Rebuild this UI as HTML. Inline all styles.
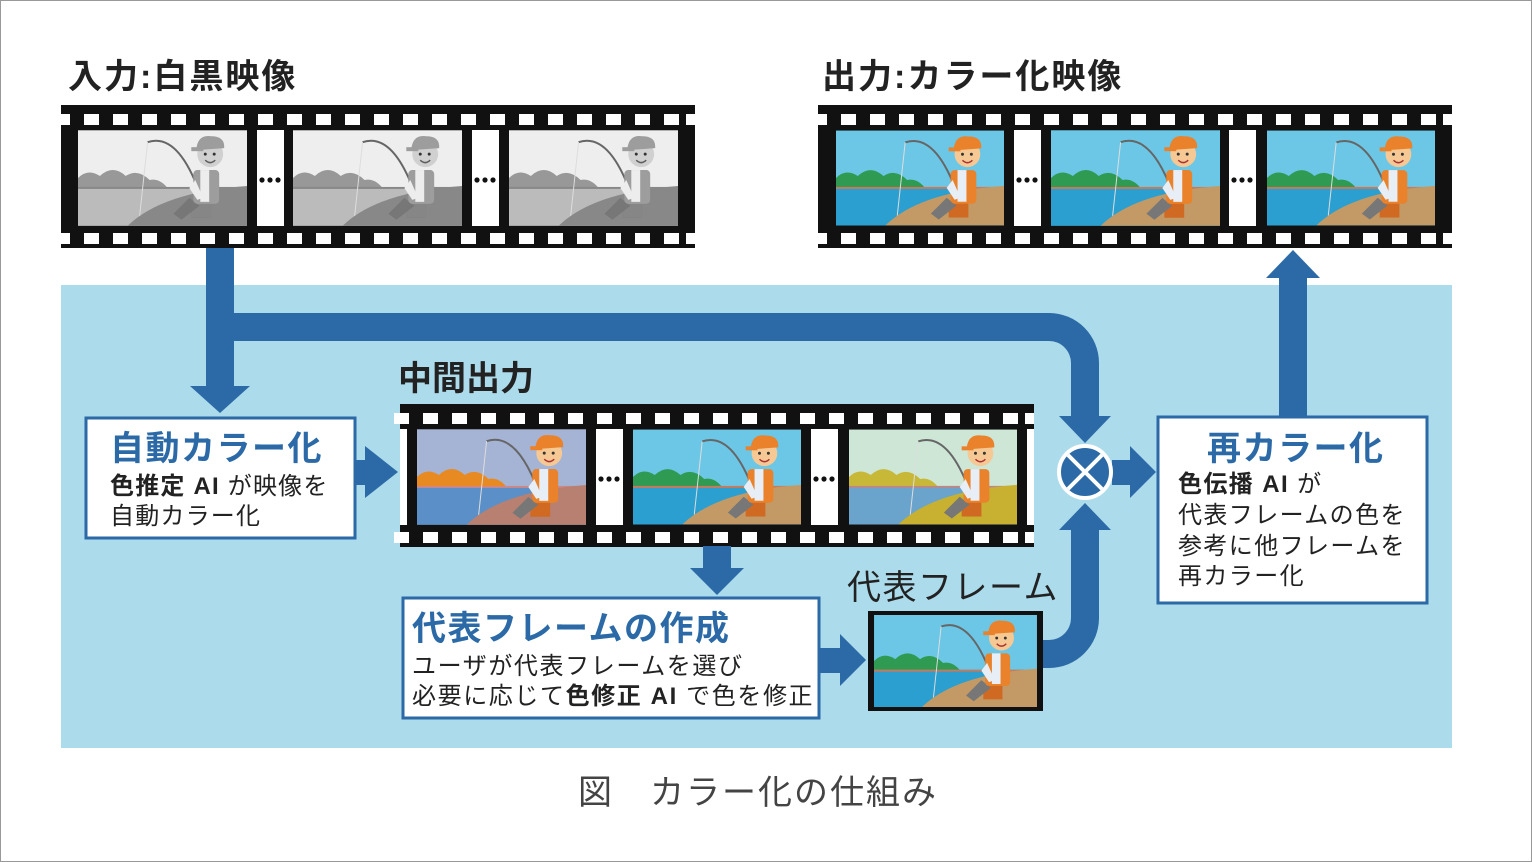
<!DOCTYPE html>
<html><head><meta charset="utf-8"><style>
html,body{margin:0;padding:0;background:#fff}
svg{display:block}
text{font-family:"Liberation Sans","Noto Sans CJK JP",sans-serif}
</style></head><body>
<svg width="1532" height="862" viewBox="0 0 1532 862" xmlns="http://www.w3.org/2000/svg">
<defs>
<symbol id="scene" viewBox="0 0 170 96">
 <rect width="170" height="96" style="fill:var(--sky)"/>
 <path d="M0,58 L0,48 Q10,38 22,46 Q35,34 48,46 Q60,38 72,50 Q82,48 90,58 Z" style="fill:var(--hill)"/>
 <rect y="58" width="170" height="38" style="fill:var(--water)"/>
 <rect y="57" width="170" height="2" style="fill:var(--shore)"/>
 <path d="M50,96 Q85,62 170,56 L170,96 Z" style="fill:var(--ground)"/>
 <path d="M122,62 Q100,2 70,12" stroke="#666" stroke-width="2" fill="none"/>
 <path d="M70,12 L62,86" stroke="#ddd" stroke-width="1" fill="none"/>
 <rect x="114" y="72" width="20" height="16" fill="#d06a22"/>
 <path d="M112,68 L96,84 L104,90 L122,76 Z" fill="#777"/>
 <rect x="116" y="40" width="26" height="34" rx="4" fill="#e9822a"/>
 <rect x="123" y="40" width="9" height="32" fill="#e8eef6"/>
 <path d="M118,50 L126,68 L120,70 L112,58 Z" fill="#e8eef6"/>
 <circle cx="133" cy="24" r="13" fill="#f6c894"/>
 <path d="M119,20 Q120,4 134,6 Q148,6 147,18 Z" fill="#e9822a"/>
 <rect x="114" y="17" width="12" height="4" fill="#e9822a"/>
 <circle cx="128" cy="24" r="1.5" fill="#333"/><circle cx="137" cy="24" r="1.5" fill="#333"/>
 <path d="M128,30 Q133,35 138,30" stroke="#a33" stroke-width="1.5" fill="none"/>
</symbol>
<g id="holes">
 <rect x="-6" y="0" width="15" height="11" fill="#fff"/><rect x="23" y="0" width="15" height="11" fill="#fff"/><rect x="52" y="0" width="15" height="11" fill="#fff"/><rect x="81" y="0" width="15" height="11" fill="#fff"/><rect x="110" y="0" width="15" height="11" fill="#fff"/><rect x="139" y="0" width="15" height="11" fill="#fff"/><rect x="168" y="0" width="15" height="11" fill="#fff"/><rect x="197" y="0" width="15" height="11" fill="#fff"/><rect x="226" y="0" width="15" height="11" fill="#fff"/><rect x="255" y="0" width="15" height="11" fill="#fff"/><rect x="284" y="0" width="15" height="11" fill="#fff"/><rect x="313" y="0" width="15" height="11" fill="#fff"/><rect x="342" y="0" width="15" height="11" fill="#fff"/><rect x="371" y="0" width="15" height="11" fill="#fff"/><rect x="400" y="0" width="15" height="11" fill="#fff"/><rect x="429" y="0" width="15" height="11" fill="#fff"/><rect x="458" y="0" width="15" height="11" fill="#fff"/><rect x="487" y="0" width="15" height="11" fill="#fff"/><rect x="516" y="0" width="15" height="11" fill="#fff"/><rect x="545" y="0" width="15" height="11" fill="#fff"/><rect x="574" y="0" width="15" height="11" fill="#fff"/><rect x="603" y="0" width="15" height="11" fill="#fff"/><rect x="625" y="0" width="9" height="11" fill="#fff"/>
</g>
<g id="film">
 <rect width="634" height="143" fill="#111"/>
 <use href="#holes" y="9"/>
 <use href="#holes" y="128"/>
 <rect x="196" y="25" width="27" height="96" fill="#fff"/>
 <rect x="411" y="25" width="27" height="96" fill="#fff"/>
 <circle cx="201" cy="75" r="2.6" fill="#111"/><circle cx="209" cy="75" r="2.6" fill="#111"/><circle cx="217" cy="75" r="2.6" fill="#111"/>
 <circle cx="416" cy="75" r="2.6" fill="#111"/><circle cx="424" cy="75" r="2.6" fill="#111"/><circle cx="432" cy="75" r="2.6" fill="#111"/>
</g>
<filter id="gray"><feColorMatrix type="saturate" values="0"/></filter>
</defs>
<rect x="0.5" y="0.5" width="1531" height="861" fill="#fff" stroke="#999"/>
<rect x="61" y="285" width="1391" height="463" fill="#acdbeb"/>

<text x="68" y="88" font-size="34" font-weight="bold" fill="#222" letter-spacing="2">入力:白黒映像</text>
<text x="822" y="88" font-size="34" font-weight="bold" fill="#222" letter-spacing="2">出力:カラー化映像</text>

<g transform="translate(61,105)">
 <use href="#film"/>
 <g filter="url(#gray)" style="--sky:#eee;--hill:#5a5;--water:#bbb;--shore:#888;--ground:#888">
  <use href="#scene" x="17" y="25" width="169" height="96"/>
  <use href="#scene" x="232" y="25" width="169" height="96"/>
  <use href="#scene" x="448" y="25" width="169" height="96"/>
 </g>
</g>
<g transform="translate(818,105)" style="--sky:#6cc7e6;--hill:#2f9a52;--water:#2a9fd0;--shore:#c87a5a;--ground:#c39a66">
 <use href="#film"/>
 <use href="#scene" x="18" y="25" width="168" height="96"/>
 <use href="#scene" x="233" y="25" width="169" height="96"/>
 <use href="#scene" x="449" y="25" width="168" height="96"/>
</g>
<g transform="translate(400,404)">
 <use href="#film"/>
 <rect x="0" y="25" width="7" height="96" fill="#fff"/>
 <rect x="627" y="25" width="7" height="96" fill="#fff"/>
 <use href="#scene" x="17" y="25" width="169" height="96" style="--sky:#a5b3d4;--hill:#e88a22;--water:#5a8fc8;--shore:#c88;--ground:#b88070"/>
 <use href="#scene" x="233" y="25" width="168" height="96" style="--sky:#6cc7e6;--hill:#2f9a52;--water:#2a9fd0;--shore:#c87a5a;--ground:#c39a66"/>
 <use href="#scene" x="449" y="25" width="168" height="96" style="--sky:#cde6d6;--hill:#c8b838;--water:#6aa4cc;--shore:#b88;--ground:#c8b030"/>
</g>

<g fill="#2b6aa7">
 <rect x="206" y="248" width="28" height="140"/>
 <polygon points="190,386 250,386 220,413"/>
 <path d="M206,313 L1049,313 A50,50 0 0 1 1099,363 L1099,418 L1071,418 L1071,363 A22,22 0 0 0 1049,341 L206,341 Z"/>
 <polygon points="1059,416 1111,416 1085,443"/>
 <rect x="355" y="460" width="12" height="25"/>
 <polygon points="365,446 398,472 365,498"/>
 <rect x="703" y="546" width="28" height="24"/>
 <polygon points="690,568 744,568 717,595"/>
 <rect x="820" y="648" width="22" height="25"/>
 <polygon points="840,634 866,660 840,686"/>
 <path d="M1043,640 L1049,640 A22,22 0 0 0 1071,618 L1071,528 L1099,528 L1099,618 A50,50 0 0 1 1049,668 L1043,668 Z"/>
 <polygon points="1059,530 1111,530 1085,503"/>
 <rect x="1112" y="460" width="20" height="25"/>
 <polygon points="1130,446 1156,472 1130,498"/>
 <rect x="1279" y="276" width="28" height="142"/>
 <polygon points="1266,278 1320,278 1293,250"/>
</g>
<circle cx="1085" cy="472" r="26" fill="#2b6aa7" stroke="#fff" stroke-width="4"/>
<path d="M1068,455 L1102,489 M1102,455 L1068,489" stroke="#fff" stroke-width="4"/>

<rect x="86" y="418" width="269" height="120" fill="#fff" stroke="#2b6aa7" stroke-width="3"/>
<text x="110" y="460" font-size="34" font-weight="bold" fill="#2b6aa7" letter-spacing="1.5">自動カラー化</text>
<text x="110" y="494" font-size="24" fill="#222" letter-spacing="1.2"><tspan font-weight="bold">色推定 AI</tspan> が映像を</text>
<text x="110" y="524" font-size="24" fill="#222" letter-spacing="1.2">自動カラー化</text>

<text x="398" y="390" font-size="34" font-weight="bold" fill="#222">中間出力</text>

<rect x="403" y="598" width="416" height="120" fill="#fff" stroke="#2b6aa7" stroke-width="3"/>
<text x="412" y="640" font-size="34" font-weight="bold" fill="#2b6aa7" letter-spacing="1.5">代表フレームの作成</text>
<text x="412" y="674" font-size="24" fill="#222" letter-spacing="1.6">ユーザが代表フレームを選び</text>
<text x="412" y="704" font-size="24" fill="#222" letter-spacing="1.6">必要に応じて<tspan font-weight="bold">色修正 AI</tspan> で色を修正</text>

<text x="847" y="599" font-size="34" fill="#222" letter-spacing="1.5">代表フレーム</text>
<rect x="868" y="611" width="175" height="100" fill="#111"/>
<use href="#scene" x="872" y="615" width="167" height="92" style="--sky:#6cc7e6;--hill:#2f9a52;--water:#2a9fd0;--shore:#c87a5a;--ground:#c39a66"/>

<rect x="1158" y="417" width="269" height="186" fill="#fff" stroke="#2b6aa7" stroke-width="3"/>
<text x="1207" y="460" font-size="34" font-weight="bold" fill="#2b6aa7" letter-spacing="1.5">再カラー化</text>
<text x="1178" y="492" font-size="24" fill="#222" letter-spacing="1.4"><tspan font-weight="bold">色伝播 AI</tspan> が</text>
<text x="1178" y="523" font-size="24" fill="#222" letter-spacing="1.4">代表フレームの色を</text>
<text x="1178" y="554" font-size="24" fill="#222" letter-spacing="1.4">参考に他フレームを</text>
<text x="1178" y="584" font-size="24" fill="#222" letter-spacing="1.4">再カラー化</text>

<text x="578" y="804" font-size="34" fill="#444" letter-spacing="2">図　カラー化の仕組み</text>
</svg>
</body></html>
